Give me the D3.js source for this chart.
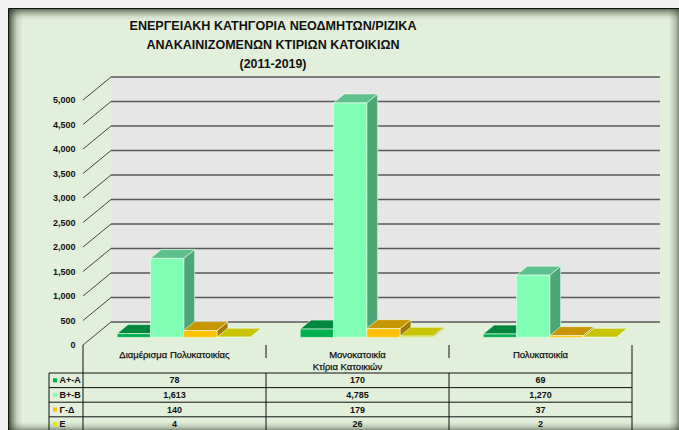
<!DOCTYPE html>
<html>
<head>
<meta charset="utf-8">
<script src="https://cdn.jsdelivr.net/npm/d3@7/dist/d3.min.js"></script>
<style>
  html, body { margin: 0; padding: 0; background: #f2f2f2; }
  svg { display: block; }
  text { font-family: "Liberation Sans", Arial, sans-serif; fill: #111; }
</style>
</head>
<body>
<svg id="chart" width="679" height="430"></svg>
<script>
// ---- data ----
const titleLines = [
  "ΕΝΕΡΓΕΙΑΚΗ ΚΑΤΗΓΟΡΙΑ ΝΕΟΔΜΗΤΩΝ/ΡΙΖΙΚΑ",
  "ΑΝΑΚΑΙΝΙΖΟΜΕΝΩΝ ΚΤΙΡΙΩΝ ΚΑΤΟΙΚΙΩΝ",
  "(2011-2019)"
];
const categories = ["Διαμέρισμα Πολυκατοικίας", "Μονοκατοικία", "Πολυκατοικία"];
const axisTitle = "Κτίρια Κατοικιών";
const seriesNames = ["Α+-Α", "Β+-Β", "Γ-Δ", "Ε"];
const valuesAA = [78, 170, 69];
const valuesBB = [1613, 4785, 1270];
const valuesGD = [140, 179, 37];
const valuesE  = [4, 26, 2];
const yTicks = [0, 500, 1000, 1500, 2000, 2500, 3000, 3500, 4000, 4500, 5000];

const seriesValues = [valuesAA, valuesBB, valuesGD, valuesE];
const seriesStyle = [
  { front: "#00b050", top: "#00873e", side: "#006d32", key: "#00b050" },
  { front: "#80ffb4", top: "#5dc08d", side: "#4ea576", key: "#80ffb4" },
  { front: "#ffc000", top: "#c89600", side: "#a27a00", key: "#ffc000" },
  { front: "#cccc00", top: "#c8c400", side: "#a3a000", key: "#e6e600" }
];

const svg = d3.select("#chart");
const W = 679, H = 430;

// ---- frame with shaded inner edges ----
const defs = svg.append("defs");
function edgeGradient(id, x1, y1, x2, y2, stops) {
  const g = defs.append("linearGradient").attr("id", id)
    .attr("x1", x1).attr("y1", y1).attr("x2", x2).attr("y2", y2);
  stops.forEach(([o, a]) => g.append("stop").attr("offset", o)
    .attr("stop-color", "#2f3a27").attr("stop-opacity", a));
}
edgeGradient("shLeft", 0, 0, 1, 0, [[0, 0.9], [0.25, 0.55], [0.6, 0.15], [1, 0]]);
edgeGradient("shTop", 0, 0, 0, 1, [[0, 0.75], [0.3, 0.4], [0.7, 0.08], [1, 0]]);
edgeGradient("shRight", 1, 0, 0, 0, [[0, 0.55], [0.35, 0.25], [1, 0]]);
edgeGradient("shBottom", 0, 1, 0, 0, [[0, 0.5], [0.4, 0.2], [1, 0]]);

const fx = 8.5, fy = 8.5;
svg.append("rect").attr("x", fx).attr("y", fy).attr("width", W - fx).attr("height", H - fy)
  .attr("fill", "#e2efda");
svg.append("rect").attr("x", fx).attr("y", fy).attr("width", 14).attr("height", H - fy).attr("fill", "url(#shLeft)");
svg.append("rect").attr("x", fx).attr("y", fy).attr("width", W - fx).attr("height", 12).attr("fill", "url(#shTop)");
svg.append("rect").attr("x", W - 10).attr("y", fy).attr("width", 10).attr("height", H - fy).attr("fill", "url(#shRight)");
svg.append("rect").attr("x", fx).attr("y", H - 8).attr("width", W - fx).attr("height", 8).attr("fill", "url(#shBottom)");
svg.append("path").attr("d", `M${fx},${H}V${fy}H${W}`)
  .attr("fill", "none").attr("stroke", "#111").attr("stroke-width", 1);

// ---- title ----
const titleX = 273;
const titleWidths = [287, 253, 67];
svg.append("g").selectAll("text").data(titleLines).join("text")
  .attr("x", titleX).attr("y", (d, i) => 30 + i * 19)
  .attr("text-anchor", "middle")
  .attr("font-weight", "bold").attr("font-size", 13.5)
  .attr("textLength", (d, i) => titleWidths[i])
  .attr("lengthAdjust", "spacingAndGlyphs")
  .text(d => d);

// ---- 3D geometry ----
const frontLeft = 83, frontRight = 632, Y0 = 345;
const DX = 28, DY = -23;       // full depth offset of the floor
const t0 = 0.33, t1 = 0.72;    // bar depth span (fraction of floor depth)

const y = d3.scaleLinear().domain([0, 5000]).range([0, 245]);
const x0 = d3.scaleBand().domain(categories).range([frontLeft, frontRight]).padding(0);
const bw = x0.bandwidth();
const gap = bw * 0.75 / 5.5;
const x1 = d3.scaleBand().domain(seriesNames).range([gap, bw - gap]).padding(0);

const P = (xf, v, t) => [xf + t * DX, Y0 - y(v) + t * DY];
const poly = pts => pts.map(p => p.join(",")).join(" ");

// back wall
const wallG = svg.append("g");
wallG.append("polygon")
  .attr("points", poly([P(frontLeft, 0, 1), P(frontRight, 0, 1), P(frontRight, 5000, 1), P(frontLeft, 5000, 1)]))
  .attr("fill", "#e6e6e6");

// gridlines on back wall and side diagonals
wallG.selectAll("line.grid").data(yTicks).join("line").attr("class", "grid")
  .attr("x1", d => P(frontLeft, d, 1)[0]).attr("y1", d => P(frontLeft, d, 1)[1])
  .attr("x2", d => P(frontRight, d, 1)[0]).attr("y2", d => P(frontRight, d, 1)[1])
  .attr("stroke", "#585858").attr("stroke-width", 1.7);
wallG.selectAll("line.diag").data(yTicks).join("line").attr("class", "diag")
  .attr("x1", d => P(frontLeft, d, 0)[0]).attr("y1", d => P(frontLeft, d, 0)[1])
  .attr("x2", d => P(frontLeft, d, 1)[0]).attr("y2", d => P(frontLeft, d, 1)[1])
  .attr("stroke", "#444").attr("stroke-width", 1);

// value axis labels
const fmt = d3.format(",");
svg.append("g").selectAll("text").data(yTicks).join("text")
  .attr("x", 75.5).attr("y", d => P(frontLeft, d, 0)[1])
  .attr("dy", "0.35em").attr("text-anchor", "end")
  .attr("font-size", 9).attr("font-weight", "bold")
  .text(d => fmt(d));

// ---- bars (drawn left to right so faces overlap properly) ----
const barsG = svg.append("g");
const barList = [];
categories.forEach((c, ci) => {
  seriesNames.forEach((s, si) => {
    barList.push({ c, s, si, v: seriesValues[si][ci] });
  });
});
barList.forEach(b => {
  const xl = x0(b.c) + x1(b.s), w = x1.bandwidth(), st = seriesStyle[b.si];
  const g = barsG.append("g").attr("stroke", "rgba(240,255,240,0.75)").attr("stroke-width", 0.8)
    .attr("stroke-linejoin", "round");
  g.append("polygon")
    .attr("points", poly([P(xl + w, 0, t0), P(xl + w, 0, t1), P(xl + w, b.v, t1), P(xl + w, b.v, t0)]))
    .attr("fill", st.side);
  g.append("polygon")
    .attr("points", poly([P(xl, b.v, t0), P(xl + w, b.v, t0), P(xl + w, b.v, t1), P(xl, b.v, t1)]))
    .attr("fill", st.top);
  g.append("polygon")
    .attr("points", poly([P(xl, 0, t0), P(xl + w, 0, t0), P(xl + w, b.v, t0), P(xl, b.v, t0)]))
    .attr("fill", st.front);
});

// ---- category axis and data table ----
const tableTop = 373, rowH = 14.6, tableLeft = 49;
const axisG = svg.append("g").attr("stroke", "#111").attr("stroke-width", 1);
const dividers = [frontLeft, ...categories.slice(1).map(c => x0(c)), frontRight];
dividers.forEach((xd, i) => {
  const edge = i === 0 || i === dividers.length - 1;
  axisG.append("line").attr("x1", xd).attr("x2", xd)
    .attr("y1", Y0).attr("y2", edge ? H : 358);
  if (!edge) {
    axisG.append("line").attr("x1", xd).attr("x2", xd).attr("y1", tableTop).attr("y2", H);
  }
});
axisG.append("line").attr("x1", tableLeft).attr("x2", tableLeft).attr("y1", tableTop).attr("y2", H);
d3.range(seriesNames.length + 1).forEach(r => {
  axisG.append("line").attr("x1", tableLeft).attr("x2", frontRight)
    .attr("y1", tableTop + r * rowH).attr("y2", tableTop + r * rowH);
});

svg.append("g").selectAll("text").data(categories).join("text")
  .attr("x", d => x0(d) + bw / 2).attr("y", 355).attr("dy", "0.35em")
  .attr("text-anchor", "middle").attr("font-size", 9.5)
  .attr("stroke", "#111").attr("stroke-width", 0.25)
  .text(d => d);
svg.append("text").attr("x", (frontLeft + frontRight) / 2 - 10).attr("y", 367).attr("dy", "0.35em")
  .attr("text-anchor", "middle").attr("font-size", 9.5)
  .attr("stroke", "#111").attr("stroke-width", 0.25).text(axisTitle);

const rowsG = svg.append("g");
seriesNames.forEach((s, si) => {
  const cy = tableTop + si * rowH + rowH / 2;
  rowsG.append("rect").attr("x", 53).attr("y", cy - 2).attr("width", 4).attr("height", 4)
    .attr("fill", seriesStyle[si].key);
  rowsG.append("text").attr("x", 59.5).attr("y", cy).attr("dy", "0.35em")
    .attr("font-size", 9).attr("font-weight", "bold").text(s);
  categories.forEach((c, ci) => {
    rowsG.append("text").attr("x", x0(c) + bw / 2).attr("y", cy).attr("dy", "0.35em")
      .attr("text-anchor", "middle").attr("font-size", 9).attr("font-weight", "bold")
      .text(fmt(seriesValues[si][ci]));
  });
});
</script>
</body>
</html>
